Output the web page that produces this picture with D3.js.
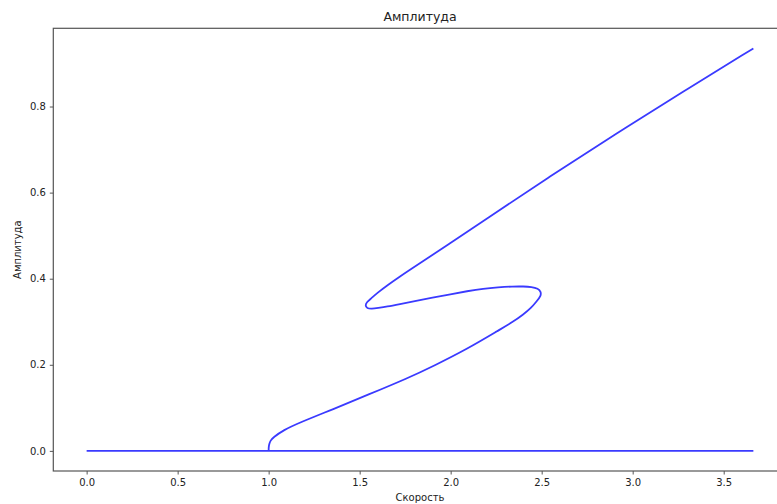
<!DOCTYPE html>
<html>
<head>
<meta charset="utf-8">
<script src="https://cdn.jsdelivr.net/npm/d3@7"></script>
<style>
  body { margin: 0; background: #fff; }
  svg { display: block; font-family: "DejaVu Sans", sans-serif; }
  .tick text { fill: #222; }
</style>
</head>
<body>
<div id="chart"></div>
<script>
// curve: speed vs amplitude
var speed = [1.000, 1.000, 1.003, 1.010, 1.025, 1.080, 1.172, 1.355, 1.538, 1.770,
  1.905, 2.088, 2.271, 2.340, 2.399, 2.440, 2.473, 2.496, 2.496, 2.480, 2.445,
  2.400, 2.340, 2.260, 2.180, 2.090, 2.000, 1.900, 1.800, 1.720, 1.650,
  1.600, 1.566, 1.540, 1.530, 1.540, 1.560, 1.600, 1.650, 1.720, 1.813,
  2.000, 2.179, 2.546, 2.912, 3.278, 3.663, 3.663];
var amplitude = [0.000, 0.008, 0.016, 0.024, 0.031, 0.048, 0.066, 0.097, 0.129, 0.170,
  0.197, 0.236, 0.282, 0.299, 0.317, 0.331, 0.348, 0.360, 0.370, 0.377, 0.381,
  0.382, 0.382, 0.380, 0.377, 0.371, 0.364, 0.356, 0.348, 0.341, 0.335,
  0.332, 0.330, 0.331, 0.338, 0.346, 0.353, 0.368, 0.384, 0.405, 0.431,
  0.483, 0.534, 0.638, 0.738, 0.835, 0.935, 0.935];

// trivial zero solution
var zeroSpeed = [0.0, 3.663];
var zeroAmp = [0.0, 0.0];

var xTicks = [0.0, 0.5, 1.0, 1.5, 2.0, 2.5, 3.0, 3.5];
var yTicks = [0.0, 0.2, 0.4, 0.6, 0.8];

var titleText = 'Амплитуда';
var xLabel = 'Скорость';
var yLabel = 'Амплитуда';

var width = 777, height = 504;
var margin = {top: 28.3, right: -9.7, bottom: 33, left: 53.3};

var svg = d3.select('#chart').append('svg')
  .attr('width', width)
  .attr('height', height);

// matplotlib style 5% padding
var xmax = d3.max(speed), ymax = d3.max(amplitude);
var x = d3.scaleLinear()
  .domain([-xmax * 0.05, xmax * 1.05])
  .range([margin.left, width - margin.right]);
var y = d3.scaleLinear()
  .domain([-ymax * 0.05, ymax * 1.05])
  .range([height - margin.bottom, margin.top]);

var fmt = d3.format('.1f');

var xAxis = svg.append('g')
  .attr('transform', 'translate(0,' + (height - margin.bottom) + ')')
  .call(d3.axisBottom(x).tickValues(xTicks).tickFormat(fmt).tickSize(3.5).tickSizeOuter(0).tickPadding(4));
var yAxis = svg.append('g')
  .attr('transform', 'translate(' + margin.left + ',0)')
  .call(d3.axisLeft(y).tickValues(yTicks).tickFormat(fmt).tickSize(3.5).tickSizeOuter(0).tickPadding(4));

[xAxis, yAxis].forEach(function(a) {
  a.select('.domain').remove();
  a.selectAll('.tick line').attr('stroke', '#444').attr('stroke-width', 0.9);
  a.selectAll('.tick text').attr('font-size', 10).attr('font-family', 'DejaVu Sans');
});

// frame
svg.append('rect')
  .attr('x', margin.left)
  .attr('y', margin.top)
  .attr('width', x.range()[1] - margin.left)
  .attr('height', y.range()[0] - margin.top)
  .attr('fill', 'none')
  .attr('stroke', '#555')
  .attr('stroke-width', 1.2);

var line = d3.line()
  .x(function(d) { return x(d[0]); })
  .y(function(d) { return y(d[1]); });

svg.append('path')
  .datum(d3.zip(zeroSpeed, zeroAmp))
  .attr('d', line)
  .attr('fill', 'none')
  .attr('stroke', '#3a3aff')
  .attr('stroke-width', 1.8);

svg.append('path')
  .datum(d3.zip(speed, amplitude))
  .attr('d', line.curve(d3.curveBasis))
  .attr('fill', 'none')
  .attr('stroke', '#3a3aff')
  .attr('stroke-width', 1.8);

svg.append('text')
  .attr('x', (margin.left + x.range()[1]) / 2)
  .attr('y', 21)
  .attr('text-anchor', 'middle')
  .attr('font-size', 12.5)
  .attr('fill', '#222')
  .text(titleText);

svg.append('text')
  .attr('x', (margin.left + x.range()[1]) / 2)
  .attr('y', 501)
  .attr('text-anchor', 'middle')
  .attr('font-size', 10)
  .attr('fill', '#222')
  .text(xLabel);

svg.append('text')
  .attr('transform', 'translate(21,' + ((margin.top + y.range()[0]) / 2) + ') rotate(-90)')
  .attr('text-anchor', 'middle')
  .attr('font-size', 10)
  .attr('fill', '#222')
  .text(yLabel);
</script>
</body>
</html>
